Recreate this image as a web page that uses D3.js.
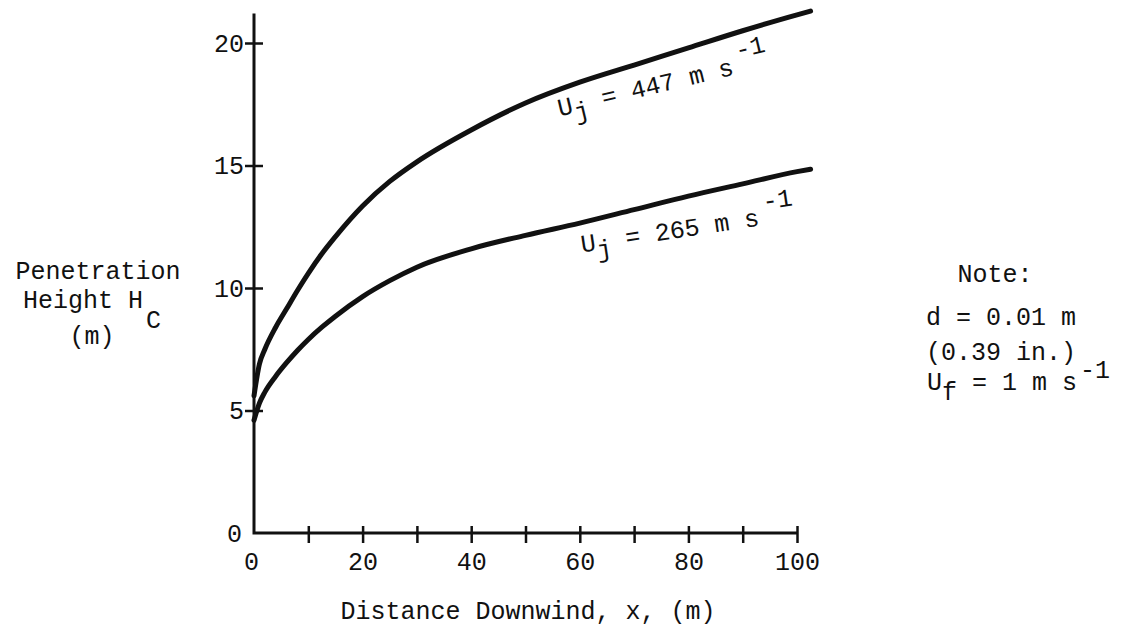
<!DOCTYPE html>
<html>
<head>
<meta charset="utf-8">
<script src="https://cdn.jsdelivr.net/npm/d3@7"></script>
<style>
  body { margin: 0; background: #fff; }
  svg text { font-family: "Liberation Mono", "DejaVu Sans Mono", monospace; font-size: 25px; fill: #111; }
</style>
</head>
<body>
<script>
// values
var distance = [0, 1, 2, 4, 6, 8, 10, 12.5, 15, 20, 25, 30, 40, 50, 60, 70, 80, 90, 100, 102.5];
var height447 = [5.6, 6.9, 7.5, 8.4, 9.15, 9.9, 10.6, 11.4, 12.1, 13.35, 14.35, 15.15, 16.45, 17.55, 18.4, 19.1, 19.8, 20.5, 21.15, 21.3];
var height265 = [4.6, 5.3, 5.75, 6.4, 6.95, 7.45, 7.9, 8.4, 8.85, 9.65, 10.3, 10.85, 11.6, 12.15, 12.65, 13.2, 13.75, 14.25, 14.75, 14.85];
var xTicks = [0, 10, 20, 30, 40, 50, 60, 70, 80, 90, 100];
var yTicks = [0, 5, 10, 15, 20];
var curveLabels = [
  { speed: "447", x: 56.3, h: 17.0, angle: -13.5 },
  { speed: "265", x: 60.4, h: 11.45, angle: -8.6 }
];
var noteLines = ["d = 0.01 m", "(0.39 in.)"];

(function(){

var width = 1132, height = 627;
var svg = d3.select("body").append("svg")
  .attr("width", width)
  .attr("height", height);

var x = d3.scaleLinear().domain([0, 100]).range([254, 797]);
var y = d3.scaleLinear().domain([0, 20]).range([533, 43]);

// axes lines
svg.append("path")
  .attr("d", "M" + x(0) + "," + y(21.2) + "L" + x(0) + "," + y(0) + "L" + x(100) + "," + y(0))
  .attr("fill", "none")
  .attr("stroke", "#111")
  .attr("stroke-width", 3);

// y axis ticks and labels
var yAxis = svg.append("g")
  .attr("transform", "translate(" + x(0) + ",0)")
  .call(d3.axisLeft(y).tickValues(yTicks).tickSize(9).tickPadding(3).tickFormat(d3.format("d")));
yAxis.select(".domain").remove();
yAxis.selectAll(".tick line")
  .attr("x1", 9)
  .attr("stroke", "#111")
  .attr("stroke-width", 2.5)
  .style("display", function(d){ return d === 0 ? "none" : null; });
yAxis.selectAll(".tick text")
  .attr("fill", null)
  .attr("x", function(d){ return d === 0 ? -12 : -10; });
yAxis.attr("font-size", null).attr("font-family", null);

// x axis ticks and labels
var xAxis = svg.append("g")
  .attr("transform", "translate(0," + y(0) + ")")
  .call(d3.axisBottom(x).tickValues(xTicks).tickSize(10)
    .tickFormat(function(d){ return d % 20 === 0 ? d : ""; }));
xAxis.select(".domain").remove();
xAxis.selectAll(".tick line")
  .attr("y1", -7)
  .attr("stroke", "#111")
  .attr("stroke-width", 2.5)
  .style("display", function(d){ return d === 0 ? "none" : null; });
xAxis.selectAll(".tick text")
  .attr("fill", null)
  .attr("y", 19)
  .attr("dy", "0.71em")
  .attr("dx", function(d){ return d === 0 ? -3 : 0; });
xAxis.attr("font-size", null).attr("font-family", null);

// curves
var line = d3.line()
  .x(function(d){ return x(d[0]); })
  .y(function(d){ return y(d[1]); })
  .curve(d3.curveMonotoneX);

[height447, height265].forEach(function(series){
  svg.append("path")
    .datum(distance.map(function(dx, i){ return [dx, series[i]]; }))
    .attr("d", line)
    .attr("fill", "none")
    .attr("stroke", "#111")
    .attr("stroke-width", 5)
    .attr("stroke-linecap", "round");
});

// curve labels
curveLabels.forEach(function(lab){
  var t = svg.append("text")
    .attr("transform", "translate(" + x(lab.x) + "," + y(lab.h) + ") rotate(" + lab.angle + ")");
  t.append("tspan").text("U");
  t.append("tspan").attr("dy", 8).text("j");
  t.append("tspan").attr("dy", -8).text(" = " + lab.speed + " m s");
  t.append("tspan").attr("dy", -15).attr("dx", 6).text("-1");
});

// axis titles
svg.append("text")
  .attr("x", 528).attr("y", 619)
  .attr("text-anchor", "middle")
  .text("Distance Downwind, x, (m)");

svg.append("text").attr("x", 98).attr("y", 279).attr("text-anchor", "middle").text("Penetration");
var hc = svg.append("text").attr("x", 23).attr("y", 308);
hc.append("tspan").text("Height H");
hc.append("tspan").attr("dy", 20).attr("dx", 3).text("C");
svg.append("text").attr("x", 92).attr("y", 344).attr("text-anchor", "middle").text("(m)");

// note
svg.append("text").attr("x", 995).attr("y", 282).attr("text-anchor", "middle").text("Note:");
noteLines.forEach(function(s, i){
  svg.append("text").attr("x", 926).attr("y", 325 + i * 35).text(s);
});
var uf = svg.append("text").attr("x", 927).attr("y", 390);
uf.append("tspan").text("U");
uf.append("tspan").attr("dy", 10).text("f");
uf.append("tspan").attr("dy", -10).text(" = 1 m s");
uf.append("tspan").attr("dy", -12).attr("dx", 3).text("-1");

})();
</script>
</body>
</html>
